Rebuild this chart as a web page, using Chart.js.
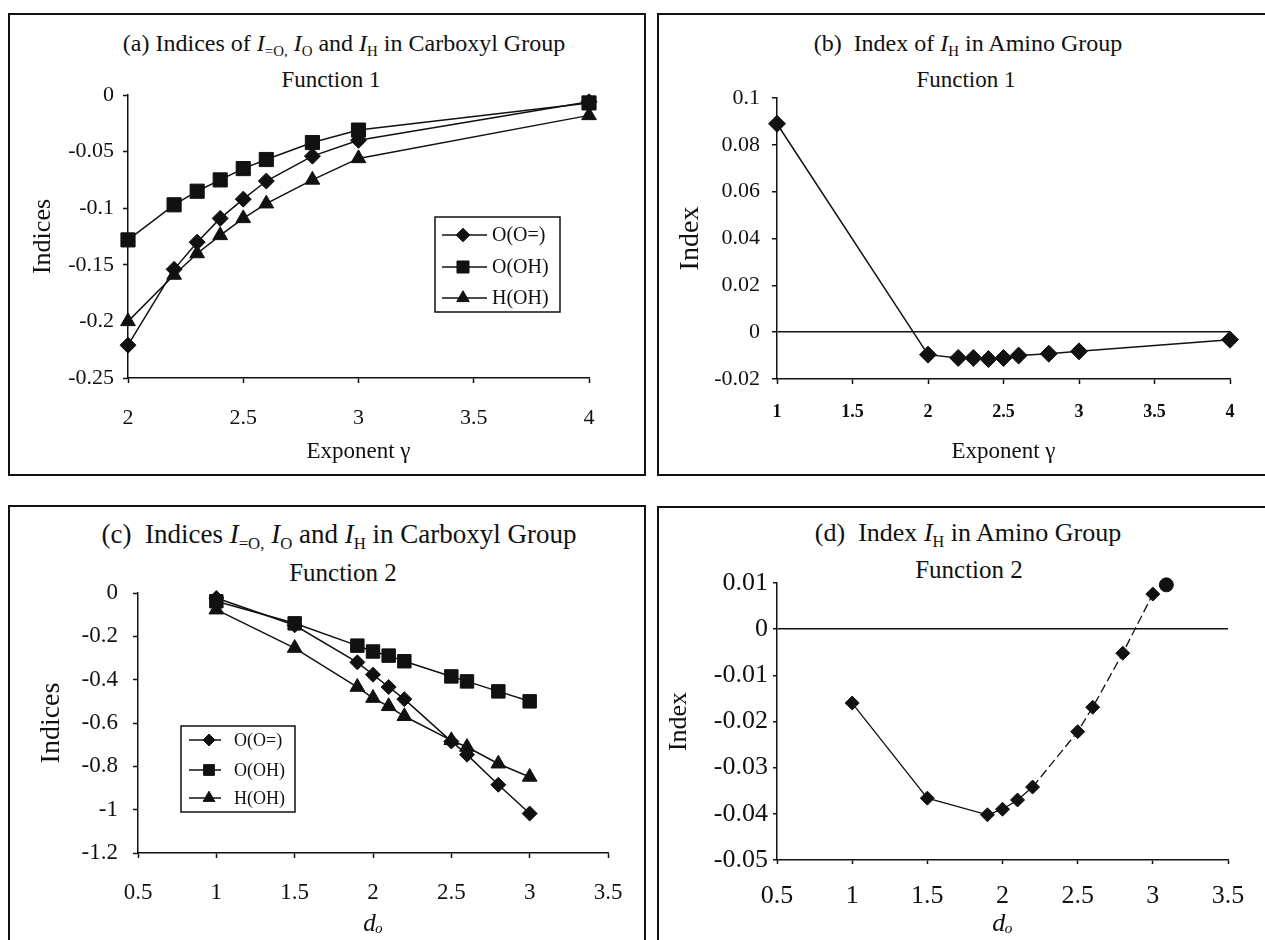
<!DOCTYPE html>
<html>
<head>
<meta charset="utf-8">
<script src="https://cdn.jsdelivr.net/npm/chart.js@4.4.1/dist/chart.umd.min.js"></script>
<style>
html,body{margin:0;padding:0;background:#fff;}
#page{position:relative;width:1265px;height:940px;overflow:hidden;background:#fff;font-family:'Liberation Serif','Times New Roman',serif;color:#111;}
.panel{position:absolute;border:2px solid #111;box-sizing:border-box;}
canvas{position:absolute;}
.ttl{position:absolute;white-space:nowrap;transform:translateX(-50%);line-height:1;}
.ttl sub{font-size:62%;vertical-align:-0.35em;}
.ttl i{font-style:italic;}
</style>
</head>
<body>
<div id="page">
  <div class="panel" style="left:8px;top:13px;width:638px;height:463px"></div>
  <div class="panel" style="left:657px;top:13px;width:640px;height:463px"></div>
  <div class="panel" style="left:8px;top:505px;width:638px;height:460px"></div>
  <div class="panel" style="left:657px;top:506px;width:640px;height:460px"></div>

  <div class="ttl" style="left:344px;top:31px;font-size:24px">(a) Indices of <i>I</i><sub>=O,</sub> <i>I</i><sub>O</sub> and <i>I</i><sub>H</sub> in Carboxyl Group</div>
  <div class="ttl" style="left:331px;top:68px;font-size:23px">Function 1</div>
  <div class="ttl" style="left:968px;top:31px;font-size:24px">(b)&nbsp; Index of <i>I</i><sub>H</sub> in Amino Group</div>
  <div class="ttl" style="left:966px;top:68px;font-size:23px">Function 1</div>
  <div class="ttl" style="left:339px;top:521px;font-size:27px">(c)&nbsp; Indices <i>I</i><sub>=O,</sub> <i>I</i><sub>O</sub> and <i>I</i><sub>H</sub> in Carboxyl Group</div>
  <div class="ttl" style="left:343px;top:560px;font-size:25px">Function 2</div>
  <div class="ttl" style="left:968px;top:520px;font-size:26px">(d)&nbsp; Index <i>I</i><sub>H</sub> in Amino Group</div>
  <div class="ttl" style="left:969px;top:557px;font-size:25px">Function 2</div>

  <canvas id="chartA" width="638" height="463" style="left:8px;top:13px"></canvas>
  <canvas id="chartB" width="608" height="463" style="left:657px;top:13px"></canvas>
  <canvas id="chartC" width="638" height="435" style="left:8px;top:505px"></canvas>
  <canvas id="chartD" width="608" height="434" style="left:657px;top:506px"></canvas>
</div>
<script>
// (a) Function 1, carboxyl group
const gammaA=[2,2.2,2.3,2.4,2.5,2.6,2.8,3,4];
const aOdbl=[-0.221,-0.154,-0.130,-0.109,-0.092,-0.076,-0.054,-0.040,-0.006];
const aOOH=[-0.128,-0.097,-0.085,-0.075,-0.065,-0.057,-0.042,-0.031,-0.007];
const aHOH=[-0.200,-0.159,-0.140,-0.124,-0.109,-0.096,-0.075,-0.056,-0.018];
const aXTicks=[2,2.5,3,3.5,4];
const aYTicks=[0,-0.05,-0.1,-0.15,-0.2,-0.25];

// (b) Function 1, amino group
const gammaB=[1,2,2.2,2.3,2.4,2.5,2.6,2.8,3,4];
const bIH=[0.089,-0.0096,-0.011,-0.011,-0.0115,-0.011,-0.010,-0.0092,-0.0082,-0.0032];
const bXTicks=[1,1.5,2,2.5,3,3.5,4];
const bYTicks=[0.1,0.08,0.06,0.04,0.02,0,-0.02];

// (c) Function 2, carboxyl group
const dOC=[1,1.5,1.9,2,2.1,2.2,2.5,2.6,2.8,3];
const cOdbl=[-0.023,-0.149,-0.320,-0.377,-0.434,-0.490,-0.685,-0.746,-0.885,-1.018];
const cOOH=[-0.038,-0.140,-0.243,-0.270,-0.289,-0.315,-0.385,-0.408,-0.454,-0.500];
const cHOH=[-0.077,-0.254,-0.434,-0.485,-0.523,-0.569,-0.680,-0.711,-0.788,-0.849];
const cXTicks=[0.5,1,1.5,2,2.5,3,3.5];
const cYTicks=[0,-0.2,-0.4,-0.6,-0.8,-1,-1.2];

// (d) Function 2, amino group
const dOD=[1,1.5,1.9,2,2.1,2.2,2.5,2.6,2.8,3];
const dIH=[-0.016,-0.0366,-0.0402,-0.039,-0.037,-0.0342,-0.0222,-0.0169,-0.0052,0.0076];
const dLastX=[3.09];
const dLastY=[0.0096];
const dXTicks=[0.5,1,1.5,2,2.5,3,3.5];
const dYTicks=[0.01,0,-0.01,-0.02,-0.03,-0.04,-0.05];

const legendNames=['O(O=)','O(OH)','H(OH)'];

const INK='#111';
const SERIF="'Liberation Serif','Times New Roman',serif";
Chart.defaults.font.family=SERIF;
Chart.defaults.color=INK;

const pts=(xs,ys)=>xs.map((x,i)=>({x,y:ys[i]}));
const fnt=(size,extra)=>Object.assign({family:SERIF,size},extra||{});

function series(label,xs,ys,style,r,extra){
  return Object.assign({
    label,data:pts(xs,ys),showLine:true,tension:0,clip:false,
    borderColor:INK,backgroundColor:INK,borderWidth:1.5,
    pointStyle:style,pointRadius:r,pointHoverRadius:r,pointBorderWidth:1,pointBorderColor:INK,pointBackgroundColor:INK
  },extra||{});
}

function xScale(o){
  return{
    type:'linear',position:'bottom',min:o.min,max:o.max,
    afterBuildTicks:s=>{s.ticks=o.ticks.map(v=>({value:v}));},
    afterFit:s=>{s.height=o.size;},
    ticks:{font:o.tickFont,padding:o.pad,color:INK,maxRotation:0,autoSkip:false,callback:v=>String(v)},
    grid:{display:true,drawOnChartArea:false,tickLength:o.tl,tickColor:INK,tickWidth:1.5,color:INK},
    border:{display:true,color:INK,width:1.5},
    title:{display:true,text:o.title,font:o.titleFont,color:INK,padding:{top:0,bottom:o.titlePad}}
  };
}

function yScale(o){
  const grid=o.zeroLine
    ?{display:true,drawOnChartArea:true,tickLength:o.tl,tickColor:INK,tickWidth:1.5,lineWidth:1.5,
      color:c=>(c.tick&&c.tick.value===0)?INK:'rgba(0,0,0,0)'}
    :{display:true,drawOnChartArea:false,tickLength:o.tl,tickColor:INK,tickWidth:1.5,color:INK};
  return{
    type:'linear',position:'left',min:o.min,max:o.max,
    afterBuildTicks:s=>{s.ticks=o.ticks.slice().sort((a,b)=>a-b).map(v=>({value:v}));},
    afterFit:s=>{s.width=o.size;},
    ticks:{font:o.tickFont,padding:o.pad,color:INK,autoSkip:false,callback:v=>String(v)},
    grid,
    border:{display:true,color:INK,width:1.5},
    title:{display:true,text:o.title,font:o.titleFont,color:INK,padding:{top:o.titlePad,bottom:0}}
  };
}

// legend box drawn inside the plot area
const boxLegend={
  id:'boxLegend',
  afterDatasetsDraw(chart,args,opts){
    if(!opts||!opts.rows)return;
    const{ctx,chartArea}=chart;
    const x=chartArea.left+opts.x,y=chartArea.top+opts.y;
    ctx.save();
    ctx.fillStyle='#fff';ctx.fillRect(x,y,opts.w,opts.h);
    ctx.strokeStyle=INK;ctx.lineWidth=1.5;ctx.strokeRect(x,y,opts.w,opts.h);
    ctx.font=opts.font;ctx.textBaseline='middle';ctx.textAlign='left';
    chart.data.datasets.slice(0,opts.rows.length).forEach((ds,i)=>{
      const ry=y+opts.rows[i];
      ctx.strokeStyle=INK;ctx.fillStyle=INK;ctx.lineWidth=1.5;
      ctx.beginPath();ctx.moveTo(x+opts.line[0],ry);ctx.lineTo(x+opts.line[1],ry);ctx.stroke();
      if(Chart.helpers&&Chart.helpers.drawPoint){
        ctx.lineWidth=1;
        Chart.helpers.drawPoint(ctx,{pointStyle:ds.pointStyle,radius:ds.pointRadius*opts.mark,rotation:0,borderWidth:1},x+opts.markX,ry);
      }
      ctx.fillStyle=INK;
      ctx.fillText(ds.label,x+opts.textX,ry+1);
    });
    ctx.restore();
  }
};

function make(id,datasets,scales,padding,legend){
  return new Chart(document.getElementById(id),{
    type:'scatter',
    data:{datasets},
    options:{
      responsive:false,animation:false,events:[],
      layout:{padding},
      scales,
      plugins:{legend:{display:false},tooltip:{enabled:false},boxLegend:legend||{}}
    },
    plugins:[boxLegend]
  });
}

// (a)
make('chartA',[
  series(legendNames[0],gammaA,aOdbl,'rectRot',8),
  series(legendNames[1],gammaA,aOOH,'rect',10),
  series(legendNames[2],gammaA,aHOH,'triangle',8.5)
],{
  x:xScale({min:2,max:4,ticks:aXTicks,size:98,tickFont:fnt(22),tl:5,pad:22,title:'Exponent γ',titleFont:fnt(23),titlePad:10}),
  y:yScale({min:-0.25,max:0,ticks:aYTicks,size:120,tickFont:fnt(22),tl:5,pad:9,title:'Indices',titleFont:fnt(26),titlePad:20})
},{top:82,right:57,left:0,bottom:0},
{x:307,y:122,w:125,h:95,rows:[18,50,81],line:[7,52],markX:28,textX:57,mark:0.85,font:"20px "+SERIF});

// (b)
make('chartB',[
  series('I_H',gammaB,bIH,'rectRot',8.5)
],{
  x:xScale({min:1,max:4,ticks:bXTicks,size:97,tickFont:fnt(18,{weight:'bold'}),tl:5,pad:18,title:'Exponent γ',titleFont:fnt(23),titlePad:10}),
  y:yScale({min:-0.02,max:0.1,ticks:bYTicks,size:120,tickFont:fnt(22),tl:5,pad:12,title:'Index',titleFont:fnt(28),titlePad:17,zeroLine:true})
},{top:85,right:35,left:0,bottom:0});

// (c)
make('chartC',[
  series(legendNames[0],dOC,cOdbl,'rectRot',7.5),
  series(legendNames[1],dOC,cOOH,'rect',9.5),
  series(legendNames[2],dOC,cHOH,'triangle',8.5)
],{
  x:xScale({min:0.5,max:3.5,ticks:cXTicks,size:87,tickFont:fnt(23),tl:5,pad:21,title:'dₒ',titleFont:fnt(25,{style:'italic'}),titlePad:1}),
  y:yScale({min:-1.2,max:0,ticks:cYTicks,size:130,tickFont:fnt(23),tl:5,pad:15,title:'Indices',titleFont:fnt(28),titlePad:27})
},{top:88,right:38,left:0,bottom:0},
{x:43,y:133,w:114,h:86,rows:[14,44,72],line:[8,40],markX:28,textX:53,mark:0.8,font:"18px "+SERIF});

// (d)
make('chartD',[
  series('I_H',dOD,dIH,'rectRot',7,{segment:{borderDash:c=>c.p0DataIndex>=5?[9,4]:undefined},borderWidth:1.3}),
  series('I_H end',dLastX,dLastY,'circle',7,{showLine:false})
],{
  x:xScale({min:0.5,max:3.5,ticks:dXTicks,size:80,tickFont:fnt(26),tl:4,pad:17,title:'dₒ',titleFont:fnt(26,{style:'italic'}),titlePad:0}),
  y:yScale({min:-0.05,max:0.01,ticks:dYTicks,size:120,tickFont:fnt(26),tl:4,pad:5,title:'Index',titleFont:fnt(26),titlePad:7,zeroLine:true})
},{top:77,right:37,left:0,bottom:0});
</script>
</body>
</html>
